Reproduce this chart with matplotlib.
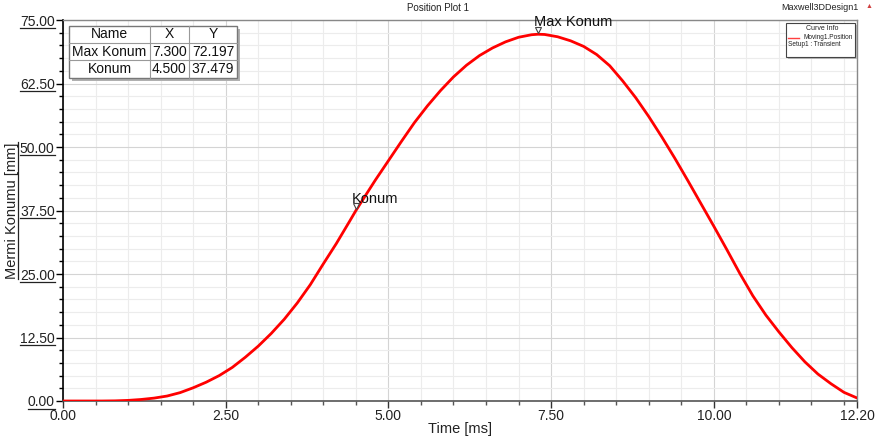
import matplotlib
matplotlib.use("Agg")
import matplotlib.pyplot as plt
from matplotlib.ticker import MultipleLocator
from matplotlib.patches import Rectangle

plt.rcParams['font.family'] = ['Liberation Sans', 'DejaVu Sans']

time_ms = [0.0, 0.2, 0.4, 0.6, 0.8, 1.0, 1.2, 1.4, 1.6, 1.8, 2.0, 2.2, 2.4, 2.6, 2.8,
           3.0, 3.2, 3.4, 3.6, 3.8, 4.0, 4.2, 4.4, 4.5, 4.6, 4.8, 5.0, 5.2, 5.4, 5.6, 5.8,
           6.0, 6.2, 6.4, 6.6, 6.8, 7.0, 7.2, 7.3, 7.4, 7.6, 7.8, 8.0, 8.2, 8.4, 8.6, 8.8,
           9.0, 9.2, 9.4, 9.6, 9.8, 10.0, 10.2, 10.4, 10.6, 10.8, 11.0, 11.2, 11.4, 11.6,
           11.8, 12.0, 12.2]
position_mm = [0.0, 0.0, 0.0, 0.0, 0.03, 0.12, 0.3, 0.57, 0.98, 1.65, 2.6, 3.7, 5.0, 6.6, 8.6,
               10.8, 13.3, 16.1, 19.3, 22.9, 27.0, 31.0, 35.3, 37.479, 39.5, 43.5, 47.3, 51.1, 54.8, 58.1, 61.1,
               63.8, 66.1, 68.0, 69.5, 70.7, 71.6, 72.1, 72.197, 72.15, 71.7, 70.9, 69.8, 68.2, 66.0, 63.0, 59.7,
               56.0, 52.0, 47.8, 43.4, 38.9, 34.4, 29.8, 25.1, 20.7, 16.9, 13.6, 10.5, 7.7, 5.3,
               3.4, 1.7, 0.6]

marker_names = ["Max Konum", "Konum"]
marker_x = [7.300, 4.500]
marker_y = [72.197, 37.479]

x_ticks = [0.00, 2.50, 5.00, 7.50, 10.00, 12.20]
y_ticks = [0.00, 12.50, 25.00, 37.50, 50.00, 62.50, 75.00]

fig = plt.figure(figsize=(8.77, 4.37), dpi=100)
ax = fig.add_axes([63/877, 1-401/437, (857-63)/877, (401-20)/437])

ax.plot(time_ms, position_mm, color='#ff0000', lw=2.0, solid_joinstyle='round', zorder=3)

ax.set_xlim(0, 12.2)
ax.set_ylim(0, 75)
ax.set_xticks(x_ticks)
ax.set_yticks(y_ticks)
ax.xaxis.set_minor_locator(MultipleLocator(0.5))
ax.yaxis.set_minor_locator(MultipleLocator(2.5))
ax.set_xticklabels([f"{v:.2f}" for v in x_ticks])
ax.set_yticklabels([f"{v:.2f}" for v in y_ticks])

ax.grid(which='major', color='#d4d4d4', lw=0.8, zorder=0)
ax.grid(which='minor', color='#ececec', lw=0.8, zorder=0)
ax.set_axisbelow(True)

ax.tick_params(which='major', direction='out', length=5, width=1, labelsize=10, colors='#333333', pad=1)
ax.tick_params(which='minor', direction='out', length=3, width=1, colors='#555555')
ax.tick_params(axis='y', which='both', colors='black')
ax.tick_params(axis='both', labelcolor='#222222')

for s in ['top', 'right']:
    ax.spines[s].set_color('#888888')
    ax.spines[s].set_linewidth(1)
ax.spines['left'].set_color('black')
ax.spines['left'].set_linewidth(1.2)
ax.spines['bottom'].set_color('#555555')
ax.spines['bottom'].set_linewidth(1.2)

ax.set_xlabel('Time [ms]', fontsize=10.5, color='#222222', labelpad=0)
ax.xaxis.set_label_coords(0.5, -0.055)
ax.set_ylabel('Mermi Konumu [mm]', fontsize=10.5, color='#222222')
ax.yaxis.set_label_coords((19 - 63) / 794, 0.5)

# markers
for name, mx, my in zip(marker_names, marker_x, marker_y):
    ax.plot([mx], [my + 0.9], marker='v', ms=5, mfc='white', mec='#444444', mew=0.8, zorder=4, clip_on=False)
    ax.annotate(name, (mx, my), xytext=(-3, 3.5), textcoords='offset points', fontsize=10.5,
                color='#111111', ha='left', va='bottom', zorder=5, annotation_clip=False)

# title and design name
fig.text(438/877, 1-8/437, 'Position Plot 1', fontsize=7, ha='center', va='center', color='#222222')
fig.text(858/877, 1-8/437, 'Maxwell3DDesign1', fontsize=6.5, ha='right', va='center', color='#222222')
fig.text(869/877, 1-7/437, '\u25b2', fontsize=5, ha='center', va='center', color='#d04040')

# marker table
def px(x, y):
    return (x/877, 1-y/437)

tx0, tx1, tx2, tx3 = 69, 150, 189, 237
ty = [26, 43, 60, 78]
fig.patches.append(Rectangle(px(tx0+3, ty[3]+3), (tx3-tx0)/877, (ty[3]-ty[0])/437, transform=fig.transFigure,
                             facecolor='#b0b0b0', edgecolor='none', zorder=9))
fig.patches.append(Rectangle(px(tx0, ty[3]), (tx3-tx0)/877, (ty[3]-ty[0])/437, transform=fig.transFigure,
                             facecolor='white', edgecolor='#777777', lw=1, zorder=10))
for yy in ty[1:3]:
    fig.add_artist(plt.Line2D([tx0/877, tx3/877], [1-yy/437]*2, color='#999999', lw=0.8, zorder=11))
for xx in [tx1, tx2]:
    fig.add_artist(plt.Line2D([xx/877]*2, [1-ty[0]/437, 1-ty[3]/437], color='#999999', lw=0.8, zorder=11))
rows = [["Name", "X", "Y"]] + [[n, f"{x:.3f}", f"{y:.3f}"] for n, x, y in zip(marker_names, marker_x, marker_y)]
cols = [(tx0+tx1)/2, (tx1+tx2)/2, (tx2+tx3)/2]
for r, row in enumerate(rows):
    yc = (ty[r] + ty[r+1]) / 2
    for c, val in enumerate(row):
        fig.text(cols[c]/877, 1-yc/437, val, fontsize=10, ha='center', va='center', color='#111111', zorder=12)

# legend box
lx0, lx1, ly0, ly1 = 786, 855, 23, 57
fig.patches.append(Rectangle(px(lx0+2, ly1+2), (lx1-lx0)/877, (ly1-ly0)/437, transform=fig.transFigure,
                             facecolor='#b8b8b8', edgecolor='none', zorder=9))
fig.patches.append(Rectangle(px(lx0, ly1), (lx1-lx0)/877, (ly1-ly0)/437, transform=fig.transFigure,
                             facecolor='white', edgecolor='#444444', lw=0.8, zorder=10))
fig.text(822/877, 1-29/437, 'Curve Info', fontsize=5.0, ha='center', va='center', color='#222222', zorder=12)
fig.add_artist(plt.Line2D([788/877, 799/877], [1-37.5/437]*2, color='#ff4040', lw=1, zorder=12))
fig.text(804/877, 1-37.5/437, 'Moving1.Position', fontsize=4.7, ha='left', va='center', color='#222222', zorder=12)
fig.text(788/877, 1-44.5/437, 'Setup1 : Transient', fontsize=4.7, ha='left', va='center', color='#222222', zorder=12)

# underline y tick labels and y label (Ansys style)
fig.canvas.draw()
r = fig.canvas.get_renderer()
W, H = fig.bbox.width, fig.bbox.height
for lab in ax.get_yticklabels():
    bb = lab.get_window_extent(r)
    y = bb.y0 + 1
    fig.add_artist(plt.Line2D([bb.x0/W, bb.x1/W], [y/H, y/H], color='#222222', lw=0.9))
bb = ax.yaxis.label.get_window_extent(r)
fig.add_artist(plt.Line2D([(bb.x1 - 1)/W]*2, [bb.y0/H, bb.y1/H], color='#222222', lw=0.9))

fig.savefig('out.png', dpi=100)
